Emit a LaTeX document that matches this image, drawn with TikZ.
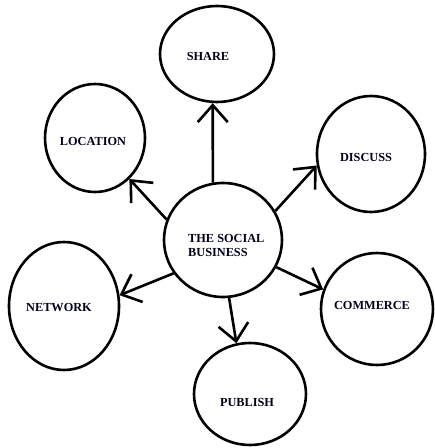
\documentclass[tikz,border=0pt]{standalone}
\usepackage{fontspec}
\setmainfont{Liberation Serif}
\usetikzlibrary{shapes.geometric,arrows.meta}
\begin{document}
\begin{tikzpicture}[x=1pt,y=1pt,
  ell/.style={draw=black, line width=2.6pt, ellipse, inner sep=0pt},
  lbl/.style={font=\fontsize{12.3}{14}\selectfont\bfseries, text=black!90!blue, inner sep=0pt},
  arr/.style={line width=2.6pt, -{Straight Barb[length=17pt,width=30pt,line width=2.6pt]}}]
\useasboundingbox (0,0) rectangle (435,448);
% circles
\node[ell, minimum width=118pt, minimum height=114pt] (c) at (223,208) {};
\node[ell, minimum width=114pt, minimum height=96pt] (share) at (217,394) {};
\node[ell, minimum width=100pt, minimum height=108pt] (loc) at (95,310) {};
\node[ell, minimum width=108pt, minimum height=116pt] (disc) at (371,294) {};
\node[ell, minimum width=110pt, minimum height=128pt] (net) at (64,142) {};
\node[ell, minimum width=112pt, minimum height=112pt] (comm) at (377,139) {};
\node[ell, minimum width=112pt, minimum height=102pt] (pub) at (250,54) {};
% labels
\node[lbl] (cT) at (188,203) [anchor=west, align=left] {THE SOCIAL\\BUSINESS};
\node[lbl] (shareT) at (208,392) {SHARE};
\node[lbl] (locT) at (93,307) {LOCATION};
\node[lbl] (discT) at (366,291) {DISCUSS};
\node[lbl] (netT) at (59,140) {NETWORK};
\node[lbl] (commT) at (372,143) {COMMERCE};
\node[lbl] (pubT) at (247,46) {PUBLISH};
% arrows
\draw[arr] (c.100) -- (share.265);
\draw[arr] (c.160) -- (loc.310);
\draw[arr] (c.29) -- (disc.192);
\draw[arr] (c.214) -- (net.11);
\draw[arr] (c.333) -- (comm.160);
\draw[arr] (c.276) -- (pub.105);
\end{tikzpicture}
\end{document}
